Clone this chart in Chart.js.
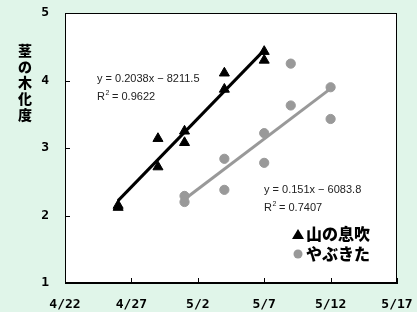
<!DOCTYPE html>
<html><head><meta charset="utf-8">
<script src="https://cdn.jsdelivr.net/npm/chart.js@4/dist/chart.umd.min.js"></script>
<style>html,body{margin:0;padding:0;background:#e0f5e9;overflow:hidden}#wrap{width:417px;height:312px;position:relative}</style>
</head><body><div id="wrap"><canvas id="c" width="417" height="312"></canvas></div>
<script>
// ---- data ----
const seriesNames = ["山の息吹", "やぶきた"];
const yamaDates  = ["4/26","4/26","4/29","4/29","5/1","5/1","5/4","5/4","5/7","5/7"];
const yamaValues = [2.12, 2.15, 3.14, 2.72, 3.25, 3.08, 4.11, 3.87, 4.43, 4.30];
const yabuDates  = ["5/1","5/1","5/4","5/4","5/7","5/7","5/9","5/9","5/12","5/12"];
const yabuValues = [2.29, 2.20, 2.84, 2.38, 3.22, 2.78, 4.25, 3.63, 3.90, 3.43];
const yamaTrendDates  = ["4/26", "5/7"];
const yamaTrendValues = [2.22, 4.45];
const yabuTrendDates  = ["5/1", "5/12"];
const yabuTrendValues = [2.24, 3.88];
const yamaEquation = ["y = 0.2038x − 8211.5", "0.9622"];
const yabuEquation = ["y = 0.151x − 6083.8", "0.7407"];
const xTickLabels = ["4/22","4/27","5/2","5/7","5/12","5/17"];
const yTickValues = [1, 2, 3, 4, 5];
const yTitle = "茎の木化度";

// ---- helpers ----
function dayIndex(s){ const [m,d]=s.split("/").map(Number); return m===4 ? d-22 : 8+d; }
function pts(dates, vals){ return dates.map((d,i)=>({x:dayIndex(d), y:vals[i]})); }
const xTickValues = xTickLabels.map(dayIndex);

const BLACK = "#000000", GRAY = "#999999";

const decor = {
  id: "decor",
  beforeDraw(chart){
    const {ctx, chartArea:a} = chart;
    ctx.save(); ctx.fillStyle="#ffffff"; ctx.fillRect(a.left,a.top,a.right-a.left,a.bottom-a.top); ctx.restore();
  },
  afterDraw(chart){
    const {ctx, chartArea:a, scales} = chart;
    ctx.save();
    ctx.strokeStyle="#000"; ctx.lineWidth=1;
    ctx.strokeRect(a.left+0.5,a.top+0.5,a.right-a.left-1,a.bottom-a.top-1);
    // inward ticks
    ctx.beginPath();
    xTickValues.forEach(v=>{const x=Math.round(scales.x.getPixelForValue(v))+0.5; ctx.moveTo(x,a.bottom); ctx.lineTo(x,a.bottom-5);});
    yTickValues.forEach(v=>{const y=Math.round(scales.y.getPixelForValue(v))+0.5; ctx.moveTo(a.left,y); ctx.lineTo(a.left+5,y);});
    ctx.stroke();
    // y title (stacked vertical)
    ctx.fillStyle="#000"; ctx.font="900 14px 'Noto Sans CJK JP'"; ctx.textAlign="center"; ctx.textBaseline="middle";
    [...yTitle].forEach((ch,i)=>ctx.fillText(ch, 25, 51+i*15.8));
    // equations
    function eq(lines, x, y){
      ctx.font="11px 'Liberation Sans', Arial"; ctx.textAlign="left"; ctx.textBaseline="middle"; ctx.fillStyle="#222";
      ctx.fillText(lines[0], x, y);
      ctx.fillText("R", x, y+18);
      const rw=ctx.measureText("R").width;
      ctx.font="7px 'Liberation Sans', Arial"; ctx.fillText("2", x+rw+0.5, y+14);
      ctx.font="11px 'Liberation Sans', Arial"; ctx.fillText(" = "+lines[1], x+rw+4, y+18);
    }
    eq(yamaEquation, 97, 79);
    eq(yabuEquation, 264, 190);
    // legend
    ctx.font="900 16px 'Noto Sans CJK JP'"; ctx.fillStyle="#000"; ctx.textAlign="left"; ctx.textBaseline="middle";
    ctx.beginPath(); ctx.moveTo(298,229); ctx.lineTo(304,239); ctx.lineTo(292,239); ctx.closePath(); ctx.fill();
    ctx.fillText(seriesNames[0], 306, 234);
    ctx.fillStyle=GRAY; ctx.beginPath(); ctx.arc(298,254,4.5,0,Math.PI*2); ctx.fill();
    ctx.fillStyle="#000"; ctx.fillText(seriesNames[1], 306, 254);
    ctx.restore();
  }
};

new Chart(document.getElementById("c"), {
  type: "scatter",
  data: { datasets: [
    { label: seriesNames[0], data: pts(yamaDates,yamaValues), pointStyle:"triangle", pointRadius:5.8, backgroundColor:BLACK, borderColor:BLACK, borderWidth:1 },
    { label: seriesNames[1], data: pts(yabuDates,yabuValues), pointStyle:"circle", pointRadius:4.6, backgroundColor:GRAY, borderColor:GRAY, borderWidth:1 },
    { type:"line", label:"trendA", data: pts(yamaTrendDates,yamaTrendValues), borderColor:BLACK, borderWidth:3, pointRadius:0, fill:false },
    { type:"line", label:"trendB", data: pts(yabuTrendDates,yabuTrendValues), borderColor:GRAY, borderWidth:3, pointRadius:0, fill:false }
  ]},
  options: {
    responsive:false, animation:false, devicePixelRatio:1,
    layout:{ padding:{ left:0, right:20, top:13, bottom:0 } },
    plugins:{ legend:{display:false}, tooltip:{enabled:false} },
    scales:{
      x:{ type:"linear", min:0, max:25,
        afterBuildTicks(s){ s.ticks = xTickValues.map(v=>({value:v})); },
        afterFit(s){ s.height = 29; s.paddingLeft=0; s.paddingRight=0; },
        grid:{ display:false, drawTicks:false }, border:{ display:true, color:"#000" },
        ticks:{ padding:14, color:"#000", font:{ family:"'DejaVu Sans Mono'", weight:"bold", size:13 },
          callback:(v)=>{ const i=xTickValues.indexOf(v); return i>=0 ? xTickLabels[i] : ""; } } },
      y:{ min:1, max:5,
        afterBuildTicks(s){ s.ticks = yTickValues.map(v=>({value:v})); },
        afterFit(s){ s.width = 65; s.paddingTop=0; s.paddingBottom=0; },
        grid:{ display:false, drawTicks:false }, border:{ display:true, color:"#000" },
        ticks:{ padding:16, color:"#000", font:{ family:"'DejaVu Sans Mono'", weight:"bold", size:13 } } }
    }
  },
  plugins:[decor]
});
</script></body></html>
